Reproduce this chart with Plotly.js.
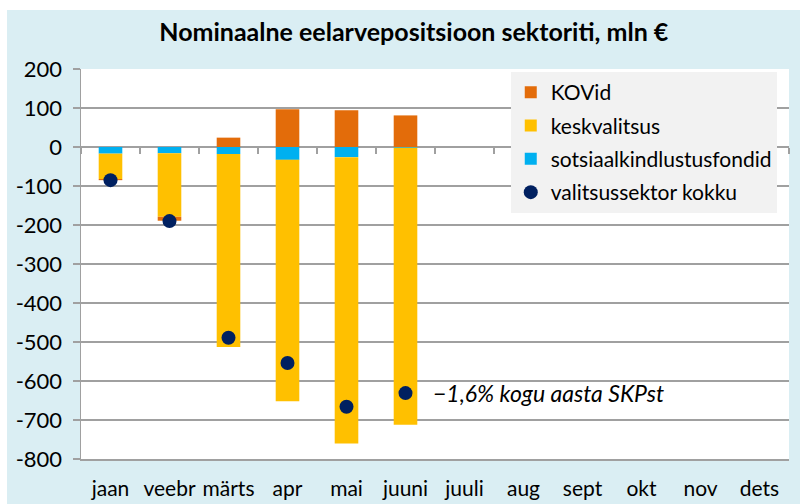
<!DOCTYPE html>
<html>
<head>
<meta charset="utf-8">
<script src="https://cdn.plot.ly/plotly-3.0.1.min.js"></script>
<style>
html,body{margin:0;padding:0;background:#ffffff;width:800px;height:504px;overflow:hidden;}
#chart{position:absolute;left:7px;top:10px;width:793px;height:494px;}
</style>
</head>
<body>
<div id="chart"></div>
<script>
var months = ["jaan","veebr","märts","apr","mai","juuni","juuli","aug","sept","okt","nov","dets"];
var dataMonths = ["jaan","veebr","märts","apr","mai","juuni"];
var kovid = [-3, -10, 24, 97, 94, 81];
var keskvalitsus = [-65, -163, -495, -619, -734, -710];
var sotsiaal = [-17, -16, -18, -33, -26, -2];
var kokku = [-85, -190, -489, -554, -666, -631];
var yTicks = [200, 100, 0, -100, -200, -300, -400, -500, -600, -700, -800];
var noteText = "\u22121,6% kogu aasta SKPst";

var font = "Lato, 'Open Sans', sans-serif";

var traces = [
  {type:"bar", name:"sotsiaalkindlustusfondid", x:dataMonths, y:sotsiaal,
   marker:{color:"#00B0F0"}, legendrank:3, legendgroup:"c", hoverinfo:"skip"},
  {type:"bar", name:"keskvalitsus", x:dataMonths, y:keskvalitsus,
   marker:{color:"#FFC000"}, legendrank:2, legendgroup:"b", hoverinfo:"skip"},
  {type:"bar", name:"KOVid", x:dataMonths, y:kovid,
   marker:{color:"#E36C0A"}, legendrank:1, legendgroup:"a", hoverinfo:"skip"},
  {type:"scatter", mode:"markers", name:"valitsussektor kokku", x:dataMonths, y:kokku,
   marker:{color:"#002060", size:14}, legendrank:4, legendgroup:"d", hoverinfo:"skip"},
  {type:"scatter", mode:"markers", x:months, y:months.map(function(){return 0;}),
   xaxis:"x2", yaxis:"y", marker:{opacity:0}, showlegend:false, hoverinfo:"skip"}
];

var layout = {
  width:793, height:494,
  paper_bgcolor:"#DAEEF3", plot_bgcolor:"#ffffff",
  margin:{l:74, r:11, t:59, b:45, pad:0},
  barmode:"relative", bargap:0.6,
  font:{family:font, size:21, color:"#000000"},
  title:{text:"<b>Nominaalne eelarvepositsioon sektoriti, mln €</b>",
         font:{family:font, size:25, color:"#000000"},
         xref:"container", x:0.513, xanchor:"center",
         yref:"container", y:0.955, yanchor:"middle"},
  xaxis:{type:"category", categoryarray:months, categoryorder:"array",
         range:[-0.5, 11.5], showgrid:false, zeroline:false,
         showline:true, linecolor:"#A0A0A0", linewidth:1.5,
         ticks:"", tickfont:{family:font, size:21, color:"#000"}, ticklabelstandoff:10,
         fixedrange:true},
  xaxis2:{type:"category", categoryarray:months, categoryorder:"array",
          range:[-0.5, 11.5], overlaying:"x", anchor:"free", position:0.8,
          showgrid:false, zeroline:false, showline:false, showticklabels:false,
          ticks:"outside", tickson:"boundaries", ticklen:6, tickcolor:"#A0A0A0", tickwidth:1.5},
  yaxis:{range:[-800, 200], tickvals:yTicks, ticktext:yTicks.map(String),
         showgrid:true, gridcolor:"#A0A0A0", gridwidth:1.5,
         zeroline:false, showline:true, linecolor:"#A0A0A0", linewidth:1.5,
         ticks:"outside", ticklen:7, tickcolor:"#A0A0A0", tickwidth:1.5,
         tickfont:{family:font, size:22, color:"#000"}, ticklabelstandoff:6},
  legend:{x:0.607, y:0.992, xanchor:"left", yanchor:"top",
          bgcolor:"#F2F2F2", borderwidth:0,
          font:{family:font, size:21, color:"#000"},
          traceorder:"grouped", tracegroupgap:3, itemwidth:30},
  annotations:[{x:"juuni", y:-630, xref:"x", yref:"y", text:"<i>"+noteText+"</i>",
                showarrow:false, xanchor:"left", yanchor:"middle", xshift:25,
                font:{family:font, size:23, color:"#000"}}],
  showlegend:true
};

Plotly.newPlot("chart", traces, layout, {staticPlot:true, displayModeBar:false});
</script>
</body>
</html>
